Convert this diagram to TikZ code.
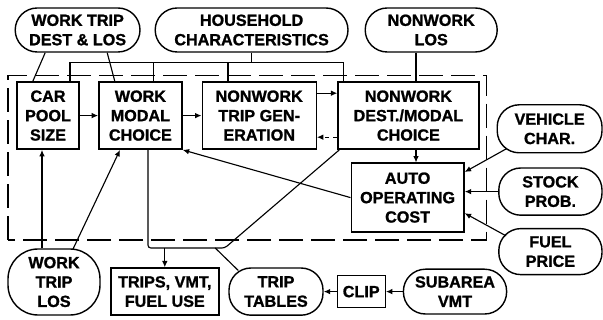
\documentclass[tikz,border=0pt]{standalone}
\usepackage{fontspec}
\setmainfont{Liberation Sans}[BoldFeatures={FakeBold=1.2}]
\usetikzlibrary{arrows.meta,positioning}

\begin{document}
\begin{tikzpicture}[
    line width=0.8pt,
    every node/.style={font=\bfseries\fontsize{11.5}{13.8}\selectfont,align=center,inner sep=1pt},
    proc/.style={rectangle,draw,line width=1pt,minimum height=1.68cm},
    ext/.style={rectangle,rounded corners=0.55cm,draw,line width=1pt,minimum height=1.1cm},
    outbox/.style={rectangle,draw,line width=1pt,minimum width=2.7cm,minimum height=1.18cm},
    arrow/.style={-{Latex[length=1.6mm,width=1.4mm]}},
    frame/.style={dash pattern=on 0.6cm off 0.2cm}
  ]
  \useasboundingbox (0,0) rectangle (15.075,8);

  % inputs on top
  \node[ext,minimum width=3.12cm] (dest) at (1.94,7.25) {WORK TRIP\\DEST \& LOS};
  \node[ext,minimum width=4.82cm] (house) at (6.29,7.25) {HOUSEHOLD\\CHARACTERISTICS};
  \node[ext,minimum width=3.3cm] (nwlos) at (10.78,7.25) {NONWORK\\LOS};

  % model steps
  \node[proc,minimum width=1.55cm] (pool) at (1.2,5.11) {CAR\\POOL\\SIZE};
  \node[proc,minimum width=2.08cm] (wmode) at (3.51,5.11) {WORK\\MODAL\\CHOICE};
  \node[proc,minimum width=2.85cm] (tgen) at (6.48,5.11) {NONWORK\\TRIP GEN-\\ERATION};
  \node[proc,minimum width=3.52cm] (nwdest) at (10.21,5.11) {NONWORK\\DEST./MODAL\\CHOICE};
  \node[proc,minimum width=2.82cm,minimum height=1.72cm] (cost) at (10.19,3.06) {AUTO\\OPERATING\\COST};

  % inputs on the right
  \node[ext,minimum width=2.62cm,minimum height=1.2cm] (vehicle) at (13.74,4.78) {VEHICLE\\CHAR.};
  \node[ext,minimum width=2.58cm,minimum height=1.18cm] (stock) at (13.76,3.21) {STOCK\\PROB.};
  \node[ext,minimum width=2.58cm,minimum height=1.15cm,below=0.3cm of stock] (fuel) {FUEL\\PRICE};

  % bottom row
  \node[ext,rounded corners=0.75cm,minimum width=2.3cm,minimum height=1.65cm] (wlos) at (1.35,0.95) {WORK\\TRIP\\LOS};
  \node[outbox] (trips) at (4.12,0.71) {TRIPS, VMT,\\FUEL USE};
  \node[ext,minimum width=2.35cm,minimum height=1.18cm,right=0.22cm of trips] (tables) {TRIP\\TABLES};
  \node[proc,minimum width=1.2cm,minimum height=0.8cm,right=0.32cm of tables] (clip) {CLIP};
  \node[ext,minimum width=2.58cm,minimum height=1.12cm,right=0.42cm of clip] (subarea) {SUBAREA\\VMT};

  % model boundary
  \draw[frame] (0.2,2.0) -- (0.2,6.12) -- (12.17,6.12) -- (12.17,2.0) -- cycle;

  % household bus
  \coordinate (busL) at (1.75,6.43);
  \coordinate (busR) at (8.58,6.43);
  \coordinate (busA) at (3.83,6.43);
  \coordinate (busB) at (5.7,6.43);
  \draw (house.south) -- (house.south |- busL);
  \draw (busL |- pool.north) -- (busL) -- (busR) -- (busR |- nwdest.north);
  \draw (busA) -- (busA |- wmode.north);
  \draw (busB) -- (busB |- tgen.north);

  % other top inputs
  \draw ([xshift=-0.81cm]dest.south) -- ([xshift=-0.38cm]pool.north);
  \draw ([xshift=0.74cm]dest.south) -- ([xshift=-0.64cm]wmode.north);
  \coordinate (nlx) at (10.4,6.5);
  \draw (nlx |- nwlos.south) -- (nlx |- nwdest.north);

  % chain of steps
  \draw[arrow] (pool) -- (wmode);
  \draw[arrow] (wmode) -- (tgen);
  \draw[arrow] ([yshift=0.56cm]tgen.east) -- ([yshift=0.56cm]tgen.east -| nwdest.west);
  \draw[arrow,dashed] ([yshift=-0.54cm]tgen.east -| nwdest.west) -- ([yshift=-0.54cm]tgen.east);
  \draw[arrow] (nlx |- nwdest.south) -- (nlx |- cost.north);

  % operating cost inputs
  \draw[arrow] ([shift={(0.25cm,0.12cm)}]vehicle.south west) -- ([yshift=0.64cm]cost.east);
  \draw[arrow] (stock) -- (stock -| cost.east);
  \draw[arrow] ([shift={(0.2cm,-0.2cm)}]fuel.north west) -- ([yshift=-0.39cm]cost.east);
  \draw[arrow] (cost.west) -- (wmode.south east);

  % work trip LOS
  \draw[arrow] ([xshift=-0.15cm]pool.south |- wlos.north) -- ([xshift=-0.15cm]pool.south);
  \draw[arrow] ([shift={(0.47cm,-0.03cm)}]wlos.north) -- ([xshift=-0.51cm]wmode.south);

  % outputs
  \coordinate (outL) at (3.7,1.8);
  \coordinate (outR) at (5.62,1.8);
  \draw[rounded corners=2pt] ([xshift=0.19cm]wmode.south) -- (outL) -- (outR) -- ([xshift=0.05cm]nwdest.south west);
  \draw[arrow] (trips.north |- outL) -- (trips.north);
  \draw (5.38,1.8) -- ([shift={(0.25cm,-0.08cm)}]tables.north west);
  \draw[arrow] (clip) -- (tables);
  \draw[arrow] (subarea) -- (clip);
\end{tikzpicture}
\end{document}
